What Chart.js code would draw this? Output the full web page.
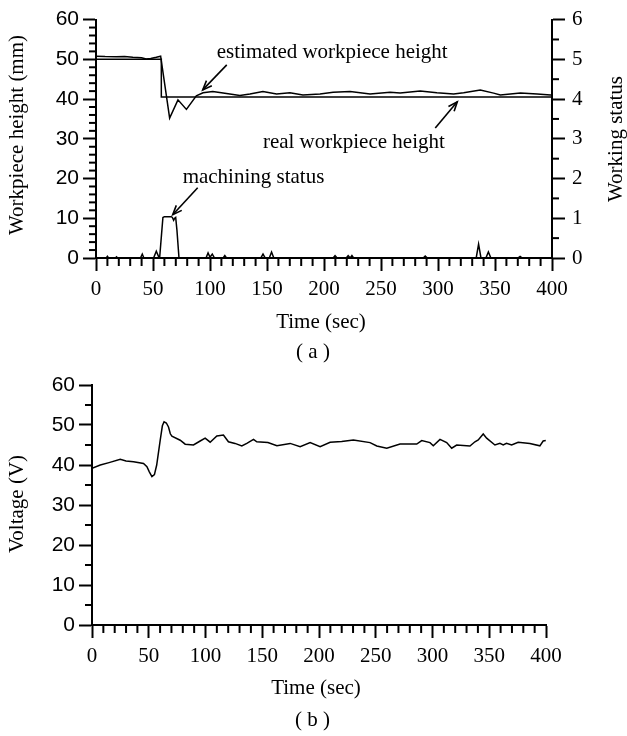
<!DOCTYPE html>
<html><head><meta charset="utf-8">
<script src="https://cdn.jsdelivr.net/npm/chart.js@4.4.1/dist/chart.umd.min.js"></script>
<style>html,body{margin:0;padding:0;background:#fff;width:627px;height:736px;overflow:hidden}canvas{position:absolute;left:0}</style>
</head><body>
<canvas id="c1" width="627" height="365" style="top:0"></canvas>
<canvas id="c2" width="627" height="371" style="top:365px"></canvas>
<script>
// ---------- data ----------
const estTime   = [0, 8, 17.8, 25, 32.3, 40, 44, 48, 52.9, 56.7, 64.6, 71.9, 79.3, 88, 93.9, 102.4, 110, 117.4, 126.2, 135, 146.4, 158.4, 170.1, 181.5, 196.5, 208, 222.9, 240.4, 258, 266.8, 284.4, 299, 313.7, 322.5, 337.1, 348.8, 354.7, 372.3, 387, 398.7, 400];
const estHeight = [50.8, 50.7, 50.65, 50.7, 50.5, 50.4, 50.1, 50.2, 50.5, 50.8, 35.2, 39.8, 37.4, 40.8, 41.6, 41.9, 41.6, 41.3, 40.9, 41.3, 41.9, 41.3, 41.6, 41.0, 41.3, 41.7, 41.9, 41.3, 41.7, 41.5, 42.0, 41.6, 41.3, 41.6, 42.3, 41.5, 41.0, 41.5, 41.3, 41.0, 41.0];
const realTime   = [0, 57.3, 57.3, 400];
const realHeight = [50, 50, 40.5, 40.5];
const statusTime  = [0, 9, 10, 11, 17, 18, 19, 39, 40.6, 42, 50.5, 52.9, 55, 55.8, 57.5, 58.7, 60, 66, 67, 68.1, 69, 69.9, 71, 72.8, 96.5, 98.3, 100, 102, 104, 106, 111.5, 113, 114.5, 144.5, 146.5, 148.5, 152, 154, 156, 208, 209.7, 211.5, 219.5, 221.2, 223, 224.5, 226, 287, 288.8, 290.6, 333.5, 335.6, 337.7, 342, 344.2, 346.4, 370, 372, 374, 400];
const statusValue = [0, 0, 0.04, 0, 0, 0.03, 0, 0, 0.1, 0, 0, 0.17, 0.03, 0, 0.6, 1.02, 1.04, 1.04, 1.02, 0.95, 1.0, 1.02, 0.7, 0, 0, 0.13, 0.02, 0.1, 0, 0, 0, 0.06, 0, 0, 0.1, 0, 0, 0.15, 0, 0, 0.06, 0, 0, 0.06, 0, 0.06, 0, 0, 0.05, 0, 0, 0.35, 0, 0, 0.15, 0, 0, 0.04, 0, 0];
const voltTime  = [0, 7.3, 15, 24.9, 30, 36.6, 45.4, 48.4, 50.5, 52.8, 55, 57, 60.1, 62, 63.5, 65.5, 67.4, 69, 70.4, 77.7, 82.1, 89.4, 95.3, 99.7, 104.1, 110, 115.8, 120.2, 126, 132, 136.4, 142.3, 145.2, 155, 162.9, 174.6, 183.4, 192.2, 201, 209.8, 220, 230.3, 245, 250.9, 259.7, 271.4, 286.1, 290.5, 297.8, 300.7, 306.6, 312.5, 316.9, 321.3, 333, 337.4, 340.3, 344.7, 347.7, 355, 359.4, 362.3, 365.2, 369.7, 375.5, 385.8, 394.6, 397.5, 399.8];
const voltValue = [39.2, 40, 40.6, 41.4, 41, 40.8, 40.4, 39.6, 38.3, 37.1, 37.6, 40, 46.2, 49.8, 50.8, 50.5, 49.5, 47.8, 47.2, 46.2, 45.2, 45, 46, 46.7, 45.7, 47.25, 47.5, 45.8, 45.4, 44.75, 45.4, 46.4, 45.8, 45.6, 44.8, 45.4, 44.6, 45.6, 44.6, 45.7, 45.9, 46.25, 45.6, 44.75, 44.2, 45.25, 45.25, 46.1, 45.6, 44.8, 46.4, 45.6, 44.2, 45, 44.75, 45.8, 46.25, 47.75, 46.7, 45, 45.4, 45, 45.4, 45, 45.7, 45.4, 44.8, 46, 46.1];

const timeRange = [0, 400], timeStep = 50, timeMinor = 10;
const heightRange = [0, 60], heightStep = 10, heightMinor = 2;
const statusRange = [0, 6], statusStep = 1, statusMinor = 0.5;
const voltRange = [0, 60], voltStep = 10, voltMinor = 5;

const pts = (xs, ys) => xs.map((x, i) => ({x, y: ys[i]}));
const SERIF = '"Liberation Serif", "Times New Roman", serif';
const SANS = '"Liberation Sans", Arial, sans-serif';

function axis(o) {
  return {
    type: 'linear', position: o.pos, min: o.range[0], max: o.range[1],
    ticks: {stepSize: o.step, color: '#000', font: {family: o.fam, size: 21}, padding: o.pad, autoSkip: false, maxRotation: 0},
    grid: {drawOnChartArea: false, drawTicks: true, tickLength: 13, tickWidth: 2, tickColor: '#000'},
    border: {display: true, color: '#000', width: 2},
    afterFit(s) { if (o.w != null) s.width = o.w; if (o.h != null) s.height = o.h; }
  };
}

function makeDeco(cfg) {
  return {
    id: 'deco',
    afterDraw(chart) {
      const ctx = chart.ctx;
      ctx.save();
      ctx.strokeStyle = '#000'; ctx.fillStyle = '#000';
      (cfg.minor || []).forEach(m => {
        const s = chart.scales[m.id];
        ctx.lineWidth = 2;
        const n = Math.round((s.max - s.min) / m.step);
        for (let i = 0; i <= n; i++) {
          const v = s.min + i * m.step;
          const r = v / m.major;
          if (Math.abs(r - Math.round(r)) < 1e-6) continue;
          const p = s.getPixelForValue(v);
          ctx.beginPath();
          if (s.isHorizontal()) { ctx.moveTo(p, s.top); ctx.lineTo(p, s.top + m.len); }
          else if (s.position === 'left') { ctx.moveTo(s.right, p); ctx.lineTo(s.right - m.len, p); }
          else { ctx.moveTo(s.left, p); ctx.lineTo(s.left + m.len, p); }
          ctx.stroke();
        }
      });
      const X = chart.scales.x;
      (cfg.arrows || []).forEach(a => {
        const Y = chart.scales[a.scale];
        const x1 = X.getPixelForValue(a.from[0]), y1 = Y.getPixelForValue(a.from[1]);
        const x2 = X.getPixelForValue(a.to[0]), y2 = Y.getPixelForValue(a.to[1]);
        ctx.lineWidth = 1.6;
        ctx.beginPath(); ctx.moveTo(x1, y1); ctx.lineTo(x2, y2); ctx.stroke();
        const ang = Math.atan2(y2 - y1, x2 - x1), L = 10, w = 0.38;
        ctx.beginPath();
        ctx.moveTo(x2 - L * Math.cos(ang - w), y2 - L * Math.sin(ang - w));
        ctx.lineTo(x2, y2);
        ctx.lineTo(x2 - L * Math.cos(ang + w), y2 - L * Math.sin(ang + w));
        ctx.stroke();
      });
      (cfg.texts || []).forEach(t => {
        ctx.font = '21px ' + SERIF;
        let x = t.x, y = t.y;
        if (t.at) { x = X.getPixelForValue(t.at[0]); y = chart.scales[t.scale].getPixelForValue(t.at[1]); }
        ctx.save();
        ctx.translate(x, y);
        if (t.rot) ctx.rotate(t.rot);
        ctx.textAlign = t.align || 'center';
        ctx.textBaseline = t.base || 'middle';
        ctx.fillText(t.text, 0, 0);
        ctx.restore();
      });
      ctx.restore();
    }
  };
}

const common = {
  animation: false, responsive: false, devicePixelRatio: 1,
  elements: {point: {radius: 0}, line: {borderColor: '#000', borderWidth: 1.5, tension: 0, fill: false}},
};

new Chart(document.getElementById('c1'), {
  type: 'line',
  data: {datasets: [
    {label: 'estimated workpiece height', data: pts(estTime, estHeight), yAxisID: 'y'},
    {label: 'real workpiece height', data: pts(realTime, realHeight), yAxisID: 'y'},
    {label: 'machining status', data: pts(statusTime, statusValue), yAxisID: 'y2'}
  ]},
  options: Object.assign({}, common, {
    layout: {padding: {top: 19, left: 0, right: 0, bottom: 0}},
    scales: {
      x: axis({pos: 'bottom', range: timeRange, step: timeStep, fam: SERIF, pad: 6, h: 107}),
      y: axis({pos: 'left', range: heightRange, step: heightStep, fam: SANS, pad: 4, w: 96}),
      y2: axis({pos: 'right', range: statusRange, step: statusStep, fam: SERIF, pad: 7, w: 75})
    },
    plugins: {legend: {display: false}, tooltip: {enabled: false}}
  }),
  plugins: [makeDeco({
    minor: [{id: 'x', step: timeMinor, major: timeStep, len: 8}, {id: 'y', step: heightMinor, major: heightStep, len: 7}, {id: 'y2', step: statusMinor, major: statusStep, len: 7}],
    arrows: [
      {scale: 'y', from: [114.7, 48.6], to: [93.6, 42.3]},
      {scale: 'y', from: [297.6, 32.7], to: [316.9, 39.3]},
      {scale: 'y', from: [89.2, 17.7], to: [67.3, 10.9]}
    ],
    texts: [
      {text: 'estimated workpiece height', at: [105.9, 50.3], scale: 'y', align: 'left', base: 'alphabetic'},
      {text: 'real workpiece height', at: [146.4, 27.6], scale: 'y', align: 'left', base: 'alphabetic'},
      {text: 'machining status', at: [76, 18.8], scale: 'y', align: 'left', base: 'alphabetic'},
      {text: 'Workpiece height (mm)', x: 17, y: 135, rot: -Math.PI / 2},
      {text: 'Working status', x: 616, y: 139, rot: -Math.PI / 2},
      {text: 'Time (sec)', x: 321, y: 322},
      {text: '( a )', x: 313, y: 352}
    ]
  })]
});

new Chart(document.getElementById('c2'), {
  type: 'line',
  data: {datasets: [
    {label: 'Voltage', data: pts(voltTime, voltValue), yAxisID: 'y'}
  ]},
  options: Object.assign({}, common, {
    layout: {padding: {top: 20, left: 0, right: 81, bottom: 0}},
    scales: {
      x: axis({pos: 'bottom', range: timeRange, step: timeStep, fam: SERIF, pad: 6, h: 111}),
      y: axis({pos: 'left', range: voltRange, step: voltStep, fam: SANS, pad: 4, w: 92})
    },
    plugins: {legend: {display: false}, tooltip: {enabled: false}}
  }),
  plugins: [makeDeco({
    minor: [{id: 'x', step: timeMinor, major: timeStep, len: 8}, {id: 'y', step: voltMinor, major: voltStep, len: 7}],
    texts: [
      {text: 'Voltage (V)', x: 17, y: 139, rot: -Math.PI / 2},
      {text: 'Time (sec)', x: 316, y: 323},
      {text: '( b )', x: 312.5, y: 355}
    ]
  })]
});
</script>
</body></html>
